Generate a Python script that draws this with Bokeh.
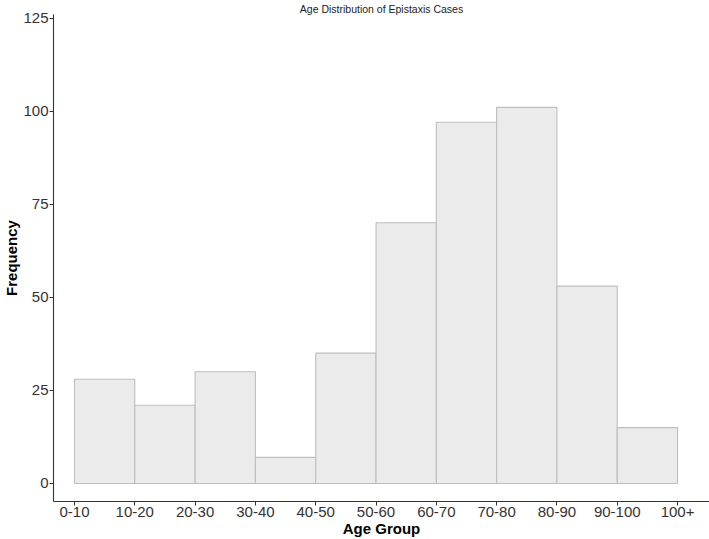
from bokeh.plotting import figure
from bokeh.models import Range1d, FixedTicker
from bokeh.embed import file_html
from bokeh.resources import INLINE

age_groups = ["0-10", "10-20", "20-30", "30-40", "40-50", "50-60",
              "60-70", "70-80", "80-90", "90-100", "100+"]
frequencies = [28, 21, 30, 7, 35, 70, 97, 101, 53, 15]
y_ticks = [0, 25, 50, 75, 100, 125]

FONT = "Liberation Sans"

p = figure(width=709, height=539, output_backend="svg", toolbar_location=None,
           x_range=Range1d(-0.348, 10.53), y_range=Range1d(-4.84, 125.94),
           min_border_top=0, min_border_right=0, min_border_left=0, min_border_bottom=0,
           title="Age Distribution of Epistaxis Cases")
p.outline_line_color = None
p.grid.visible = False
p.background_fill_color = "white"

p.title.align = "center"
p.title.text_font = FONT
p.title.text_font_size = "10.5px"
p.title.text_font_style = "normal"
p.title.text_color = "#222222"
p.title.standoff = 0
p.title.offset = 0

idx = list(range(len(frequencies)))
p.quad(left=idx, right=[i + 1 for i in idx], bottom=0, top=frequencies,
       fill_color="#EBEBEB", line_color="#BEBEBE", line_width=1.1)

for ax in (p.xaxis[0], p.yaxis[0]):
    ax.axis_line_color = "#333333"
    ax.axis_line_width = 1.1
    ax.major_tick_line_color = "#333333"
    ax.major_tick_in = 0
    ax.major_tick_out = 4
    ax.minor_tick_line_color = None
    ax.major_label_text_font = FONT
    ax.major_label_text_font_size = "15px"
    ax.major_label_text_color = "#333333"
    ax.major_label_standoff = 1
    ax.axis_label_text_font = FONT
    ax.axis_label_text_font_size = "15px"
    ax.axis_label_text_font_style = "bold"
    ax.axis_label_text_color = "black"
    ax.axis_label_standoff = 0

p.xaxis.ticker = FixedTicker(ticks=list(range(len(age_groups))))
p.xaxis.major_label_overrides = {i: g for i, g in enumerate(age_groups)}
p.xaxis.axis_label = "Age Group"
p.yaxis.ticker = FixedTicker(ticks=y_ticks)
p.yaxis.axis_label = "Frequency"

open("out.html", "w").write(file_html(p, INLINE))
